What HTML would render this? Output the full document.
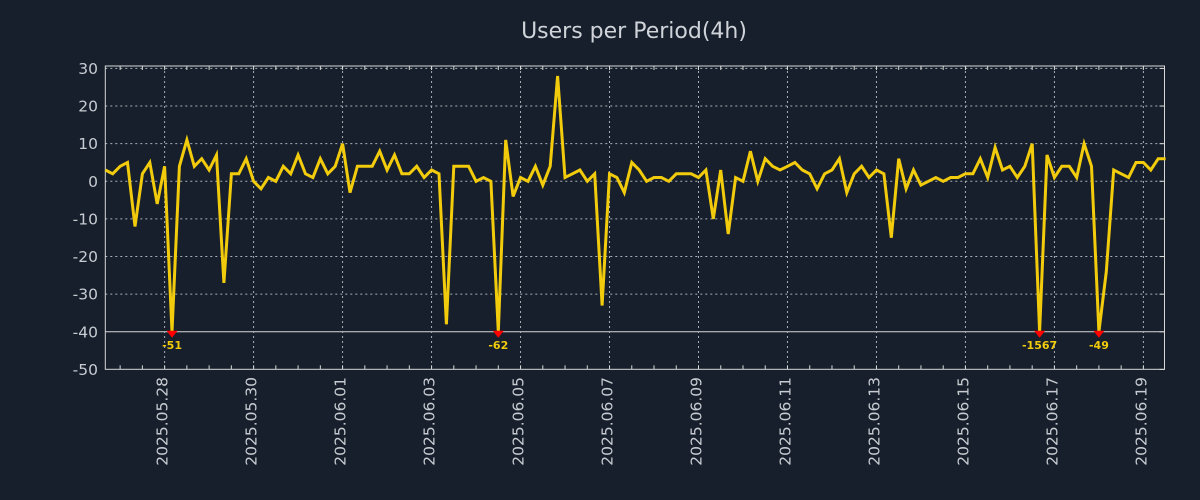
<!DOCTYPE html>
<html><head><meta charset="utf-8">
<style>
html,body{margin:0;padding:0;background:#161f2b;}
svg{display:block;font-family:"DejaVu Sans","Liberation Sans",sans-serif;}
</style></head>
<body>
<svg id="chart" width="1200" height="500" viewBox="0 0 1200 500" xmlns="http://www.w3.org/2000/svg">
<rect x="0" y="0" width="1200" height="500" fill="#161f2b"/>
<text x="634" y="38" text-anchor="middle" font-size="22" fill="#d0d4da">Users per Period(4h)</text>
<g id="grid"></g>
<g id="axes"></g>
<g id="series"></g>
<g id="markers"></g>
</svg>
<script>
const values = [3,2,4,5,-12,2,5,-6,4,-51,4,11,4,6,3,7,-27,2,2,6,0,-2,1,0,4,2,7,2,1,6,2,4,10,-3,4,4,4,8,3,7,2,2,4,1,3,2,-38,4,
4,4,0,1,0,-62,11,-4,1,0,4,-1,4,28,1,2,3,0,2,-33,2,1,-3,5,3,0,1,1,0,2,2,2,1,3,-10,3,-14,1,0,8,0,6,4,3,4,5,3,
2,-2,2,3,6,-3,2,4,1,3,2,-15,6,-2,3,-1,0,1,0,1,1,2,2,6,1,9,3,4,1,4,10,-1567,7,1,4,4,1,10,4,-49,-24,3,2,1,5,5,3,6,6];
const startTime = Date.UTC(2025,4,26,16);
const periodHours = 4;
const yTicks = [30,20,10,0,-10,-20,-30,-40,-50];
const xTickLabels = ["2025.05.28","2025.05.30","2025.06.01","2025.06.03","2025.06.05","2025.06.07","2025.06.09","2025.06.11","2025.06.13","2025.06.15","2025.06.17","2025.06.19"];
const yMin=-50, yMax=30, clampVal=-40;

const L=105.3, R=1164.5, T=66, B=369.3;
const ns="http://www.w3.org/2000/svg";
const msPerPx = (4*3600*1000)/7.415;
function xTime(t){return L+(t-startTime)/msPerPx;}
function xIdx(i){return xTime(startTime+i*periodHours*3600*1000);}
function y(v){return 181.3-(v)*3.7625;}
function parseDate(s){const p=s.split('.');return Date.UTC(+p[0],+p[1]-1,+p[2]);}
function mk(tag,attrs,parent){const e=document.createElementNS(ns,tag);for(const k in attrs)e.setAttribute(k,attrs[k]);parent.appendChild(e);return e;}

const grid=document.getElementById('grid'),axes=document.getElementById('axes'),series=document.getElementById('series'),markers=document.getElementById('markers');

yTicks.forEach(v=>{
  const yy=y(v);
  if(v>yMin){
    const g=mk('line',{x1:L,x2:R,y1:yy,y2:yy,stroke:v===-40?'#d8d8d8':'#aab0b8','stroke-width':1,'stroke-dasharray':v===-40?'none':'2,3'},grid);
    
    
  }
  const tk=mk('line',{x1:R-5,x2:R,y1:yy,y2:yy,stroke:'#d8d8d8','stroke-width':1},axes);
  
  
  const t=mk('text',{x:98,y:yy+5.5,'text-anchor':'end','font-size':15.5,fill:'#c8ccd2'},axes);
  t.textContent=String(v).replace('-','-');
  
  
});

xTickLabels.forEach(s=>{
  const xx=xTime(parseDate(s));
  const g=mk('line',{x1:xx,x2:xx,y1:T,y2:B,stroke:'#aab0b8','stroke-width':1,'stroke-dasharray':'2,3'},grid);
  
  
  const t=mk('text',{x:0,y:0,'text-anchor':'end','font-size':15.5,fill:'#c8ccd2',transform:`translate(${xx+3},${377}) rotate(-90)`},axes);
  t.textContent=s;
  
  
});
// minor ticks every 12h
for(let t=startTime-16*3600e3; xTime(t)<=R; t+=12*3600e3){
  const xx=xTime(t); if(xx<L) continue;
  const a=mk('line',{x1:xx,x2:xx,y1:T,y2:T+4,stroke:'#d8d8d8','stroke-width':1},axes);
  
  
  const b=mk('line',{x1:xx,x2:xx,y1:B-4,y2:B,stroke:'#d8d8d8','stroke-width':1},axes);
  
  
}
const frame=mk('rect',{x:L,y:T,width:R-L,height:B-T,fill:'none',stroke:'#d8d8d8','stroke-width':1},axes);



const pts=values.map((v,i)=>xIdx(i).toFixed(1)+','+y(Math.max(v,clampVal)).toFixed(1)).join(' ');
const line=mk('polyline',{points:pts,fill:'none',stroke:'#f2cc0c','stroke-width':3,'stroke-linejoin':'miter'},series);



values.forEach((v,i)=>{
  if(v>=clampVal) return;
  const xx=xIdx(i), yy=y(clampVal);
  const tri=mk('polygon',{points:`${xx-5.5},${yy-1} ${xx+5.5},${yy-1} ${xx},${yy+6}`,fill:'#ff0000'},markers);
  
  
  const t=mk('text',{x:xx,y:yy+17,'text-anchor':'middle','font-size':11,'font-weight':'bold',fill:'#f2cc0c'},markers);
  t.textContent=String(v);
  
  
});
</script>
</body></html>
